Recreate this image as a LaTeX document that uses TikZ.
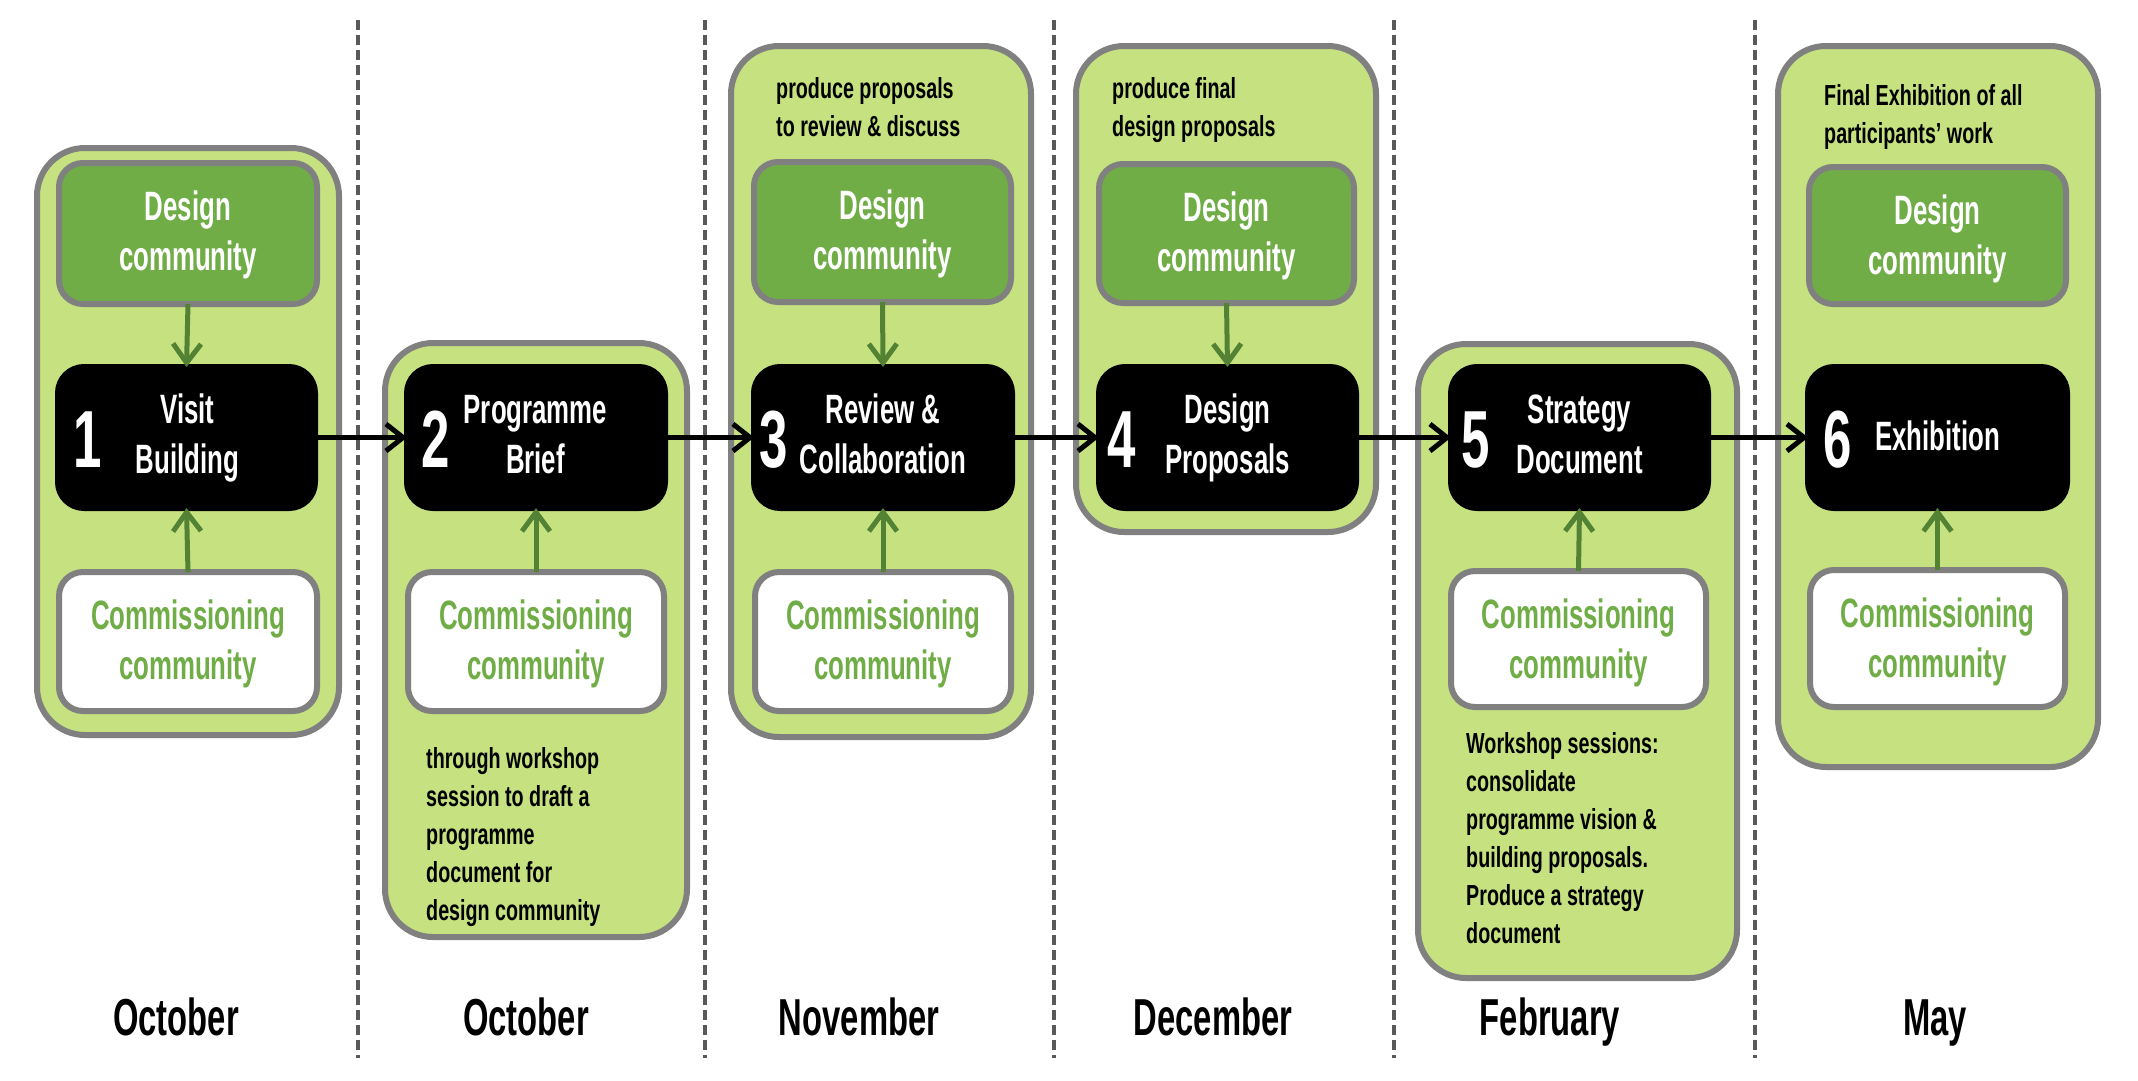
\documentclass[tikz,border=0pt]{standalone}
\usepackage{fontspec}
\newfontfamily\labf[FakeStretch=0.63]{Liberation Sans}
\newfontfamily\notef[FakeStretch=0.68]{Liberation Sans}
\usetikzlibrary{arrows.meta}
\definecolor{outerg}{RGB}{197,225,128}
\definecolor{desg}{RGB}{112,173,71}
\definecolor{bord}{RGB}{128,128,128}
\definecolor{arrg}{RGB}{84,130,53}
\definecolor{dashc}{RGB}{89,89,89}
\newcommand\ctrlines[1]{\vtop{\halign{\hfil##\hfil\cr#1\crcr}}}
\newcommand\leftlines[1]{\vtop{\halign{##\hfil\cr#1\crcr}}}
\newcommand\mkbox[6]{\node[#1, inner sep=0pt, outer sep=0pt, minimum width={#4-#2-6}, minimum height={#5-#3-6}] (#6) at ({(#2+#4)/2},{(#3+#5)/2}) {};}
\tikzset{
  outerbox/.style={draw=bord, line width=6pt, fill=outerg, rounded corners=48pt},
  designbox/.style={draw=bord, line width=6pt, fill=desg, rounded corners=24pt},
  commbox/.style={draw=bord, line width=6pt, fill=white, rounded corners=24pt},
  stagebox/.style={draw=black, line width=6pt, fill=black, rounded corners=26pt},
  lblbase/.style={inner sep=0pt, anchor=base, font=\labf\bfseries\fontsize{41}{50}\selectfont},
  wlbl/.style={lblbase, text=white},
  glbl/.style={lblbase, text=desg},
  numl/.style={inner sep=0pt, anchor=base, text=white, font=\labf\bfseries\fontsize{81}{90}\selectfont},
  notel/.style={inner sep=0pt, anchor=base west, text=black, font=\notef\bfseries\fontsize{29}{38}\selectfont},
  monl/.style={inner sep=0pt, anchor=base, text=black, font=\labf\bfseries\fontsize{52}{60}\selectfont},
  sepline/.style={draw=dashc, line width=4pt, dash pattern=on 10pt off 5pt},
  garrow/.style={draw=arrg, line width=5pt, -{Straight Barb[length=19pt,width=28pt]}},
  barrow/.style={draw=black, line width=5pt, -{Straight Barb[length=17pt,width=27pt]}},
}
\begin{document}
\begin{tikzpicture}[x=1pt,y=-1pt]
\useasboundingbox (0,0) rectangle (2138,1080);
% separators
\foreach \i/\xx in {1/358,2/705,3/1054,4/1394,5/1755}{
  \coordinate (s\i t) at (\xx,20);
  \coordinate (s\i b) at (\xx,1058);
  \draw[sepline] (s\i t) -- (s\i b);
}
% outer boxes
\mkbox{outerbox}{34}{145}{342}{738}{o1}
\mkbox{outerbox}{382}{340}{690}{940}{o2}
\mkbox{outerbox}{728}{43}{1034}{740}{o3}
\mkbox{outerbox}{1073}{43}{1379}{535}{o4}
\mkbox{outerbox}{1415}{341}{1740}{981}{o5}
\mkbox{outerbox}{1775}{43}{2101}{770}{o6}
% design boxes
\mkbox{designbox}{56}{160}{320}{307}{d1}
\mkbox{designbox}{751}{159}{1014}{305}{d3}
\mkbox{designbox}{1096}{161}{1357}{306}{d4}
\mkbox{designbox}{1806}{164}{2069}{307}{d6}
% stage boxes
\mkbox{stagebox}{55}{364}{318}{511}{b1}
\mkbox{stagebox}{404}{364}{668}{511}{b2}
\mkbox{stagebox}{751}{364}{1015}{511}{b3}
\mkbox{stagebox}{1096}{364}{1359}{511}{b4}
\mkbox{stagebox}{1448}{364}{1711}{511}{b5}
\mkbox{stagebox}{1805}{364}{2070}{511}{b6}
% commissioning boxes
\mkbox{commbox}{56}{569}{320}{714}{c1}
\mkbox{commbox}{405}{569}{667}{714}{c2}
\mkbox{commbox}{752}{569}{1014}{714}{c3}
\mkbox{commbox}{1448}{568}{1709}{710}{c5}
\mkbox{commbox}{1807}{567}{2068}{710}{c6}
% green arrows
\draw[garrow] (d1.south) -- (b1.north);
\draw[garrow] (c1.north) -- (b1.south);
\draw[garrow] (c2.north) -- (b2.south);
\draw[garrow] (d3.south) -- (b3.north);
\draw[garrow] (c3.north) -- (b3.south);
\draw[garrow] (d4.south) -- (b4.north);
\draw[garrow] (c5.north) -- (b5.south);
\draw[garrow] (c6.north) -- (b6.south);
% black arrows
\draw[barrow] (b1.east) -- (b2.west);
\draw[barrow] (b2.east) -- (b3.west);
\draw[barrow] (b3.east) -- (b4.west);
\draw[barrow] (b4.east) -- (b5.west);
\draw[barrow] (b5.east) -- (b6.west);
% design texts
\node[wlbl] (d1t) at (188,220) {\ctrlines{Design\cr community}};
\node[wlbl] (d3t) at (882.5,219) {\ctrlines{Design\cr community}};
\node[wlbl] (d4t) at (1226.5,221) {\ctrlines{Design\cr community}};
\node[wlbl] (d6t) at (1937.5,224) {\ctrlines{Design\cr community}};
% commissioning texts
\node[glbl] (c1t) at (188,629) {\ctrlines{Commissioning\cr community}};
\node[glbl] (c2t) at (536,629) {\ctrlines{Commissioning\cr community}};
\node[glbl] (c3t) at (883,629) {\ctrlines{Commissioning\cr community}};
\node[glbl] (c5t) at (1578.5,628) {\ctrlines{Commissioning\cr community}};
\node[glbl] (c6t) at (1937.5,627) {\ctrlines{Commissioning\cr community}};
% stage texts
\node[wlbl] (b1t) at (187.5,423) {\ctrlines{Visit\cr Building}};
\node[wlbl] (b2t) at (535.5,423) {\ctrlines{Programme\cr Brief}};
\node[wlbl] (b3t) at (883,423) {\ctrlines{Review \&\cr Collaboration}};
\node[wlbl] (b4t) at (1227.5,423) {\ctrlines{Design\cr Proposals}};
\node[wlbl] (b5t) at (1579.5,423) {\ctrlines{Strategy\cr Document}};
\node[wlbl] (b6t) at (1937.5,450) {Exhibition};
% numbers
\node[numl] (n1) at (88,467) {1};
\node[numl] (n2) at (436,467) {2};
\node[numl] (n3) at (774,467) {3};
\node[numl] (n4) at (1122,467) {4};
\node[numl] (n5) at (1476,467) {5};
\node[numl] (n6) at (1837.5,467) {6};
% notes
\node[notel] (nt2) at (426,768) {\leftlines{through workshop\cr session to draft a\cr programme\cr document for\cr design community}};
\node[notel] (nt3) at (776,98) {\leftlines{produce proposals\cr to review \& discuss}};
\node[notel] (nt4) at (1112,98) {\leftlines{produce final\cr design proposals}};
\node[notel] (nt5) at (1466,753) {\leftlines{Workshop sessions:\cr consolidate\cr programme vision \&\cr building proposals.\cr Produce a strategy\cr document}};
\node[notel] (nt6) at (1824,105) {\leftlines{Final Exhibition of all\cr participants’ work}};
% months
\node[monl] (m1) at (176,1035) {October};
\node[monl] (m2) at (526,1035) {October};
\node[monl] (m3) at (859,1035) {November};
\node[monl] (m4) at (1213,1035) {December};
\node[monl] (m5) at (1550,1035) {February};
\node[monl] (m6) at (1935,1035) {May};
\end{tikzpicture}
\end{document}
